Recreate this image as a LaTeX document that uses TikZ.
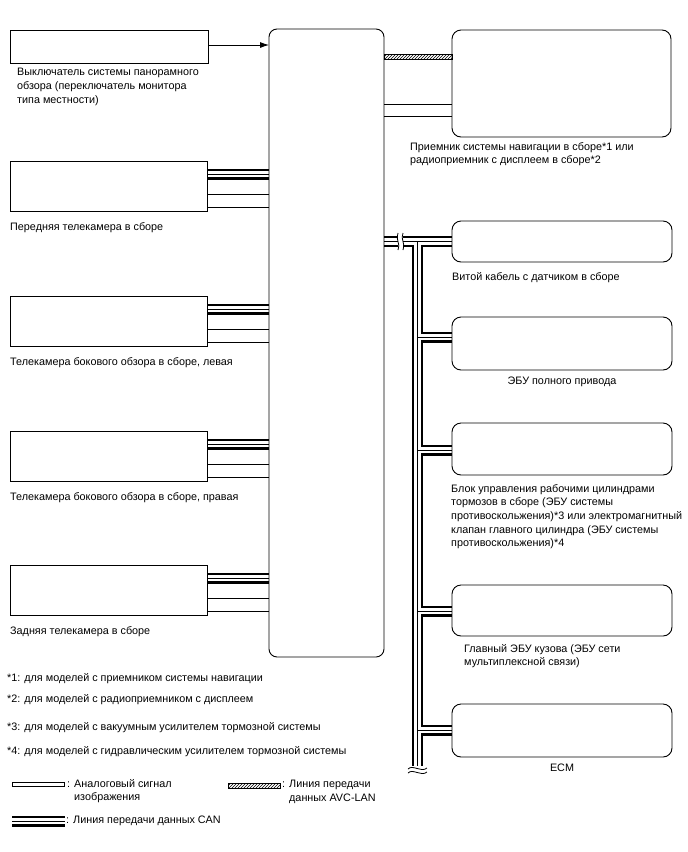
\documentclass[tikz,border=0pt]{standalone}
\usepackage{fontspec}
\setmainfont{Liberation Sans}
\usetikzlibrary{arrows.meta,patterns}
\pgfdeclarelayer{background}
\pgfsetlayers{background,main}

\tikzset{
  sqbox/.style={draw,line width=0.9pt,inner sep=0pt,outer sep=0pt},
  rdbox/.style={sqbox,rounded corners=9pt},
  lbl/.style={anchor=north west,align=left,inner sep=0pt},
  canblack/.style={line width=11pt},
  canwhite/.style={white,line width=6.5pt},
  canmid/.style={line width=0.7pt},
  analog/.style={line width=0.9pt},
}

\begin{document}
\begin{tikzpicture}[x=1pt,y=-1pt,>={Latex[length=9pt,width=6pt]},
  font=\fontsize{10.8}{13.7}\selectfont]
  \useasboundingbox (0,0) rectangle (688,852);

  % left side units
  \node[sqbox,minimum width=198pt,minimum height=33pt,anchor=north west] (swbox) at (10,30) {};
  \node[lbl] (sw-l) at (17,68) {Выключатель системы панорамного\\обзора (переключатель монитора\\типа местности)};
  \foreach \nm/\tp/\txt in {camf/161/{Передняя телекамера в сборе},
      caml/296/{Телекамера бокового обзора в сборе, левая},
      camr/431/{Телекамера бокового обзора в сборе, правая},
      camb/565/{Задняя телекамера в сборе}}{
    \node[sqbox,minimum width=197pt,minimum height=50pt,anchor=north west] (\nm) at (10,\tp) {};
    \node[lbl] (\nm-l) at (10,\tp+61) {\txt};
  }

  % the unit in the middle
  \node[sqbox,rounded corners=8pt,minimum width=115pt,minimum height=628pt,anchor=north west] (ecu) at (269,29) {};

  % right side units
  \node[rdbox,minimum width=219pt,minimum height=107pt,anchor=north west] (nav) at (452,30) {};
  \node[lbl] (nav-l) at (410,142) {Приемник системы навигации в сборе*1 или\\радиоприемник с дисплеем в сборе*2};
  \node[rdbox,minimum width=220pt,minimum height=41pt,anchor=north west] (twc) at (452,221) {};
  \node[lbl] (twc-l) at (452,272) {Витой кабель с датчиком в сборе};
  \node[rdbox,minimum width=220pt,minimum height=53pt,anchor=north west] (awd) at (452,317) {};
  \node[inner sep=0pt] (awd-l) at (562,382) {ЭБУ полного привода};
  \node[rdbox,minimum width=220pt,minimum height=52pt,anchor=north west] (brk) at (452,423) {};
  \node[lbl] (brk-l) at (451,484) {Блок управления рабочими цилиндрами\\тормозов в сборе (ЭБУ системы\\противоскольжения)*3 или электромагнитный\\клапан главного цилиндра (ЭБУ системы\\противоскольжения)*4};
  \node[rdbox,minimum width=220pt,minimum height=51pt,anchor=north west] (bdy) at (452,585) {};
  \node[lbl] (bdy-l) at (464,644) {Главный ЭБУ кузова (ЭБУ сети\\мультиплексной связи)};
  \node[rdbox,minimum width=220pt,minimum height=53pt,anchor=north west] (ecm) at (452,704) {};
  \node[inner sep=0pt] (ecm-l) at (562,768) {ECM};

  \coordinate (bustop) at (417.5,241.5);
  \coordinate (busend) at (417.5,766);

  \begin{pgfonlayer}{background}
  \draw[->,line width=0.8pt] (swbox.east |- 0,45) -- (ecu.west |- 0,45);
  \draw[line width=0.6pt,pattern=north east lines] (ecu.east |- 0,54.5) rectangle (nav.west |- 0,59.5);
  \draw[analog] (ecu.east |- 0,104) -- (nav.west |- 0,104);
  \draw[analog] (ecu.east |- 0,116) -- (nav.west |- 0,116);
  \foreach \nm in {camf,caml,camr,camb}{
    \coordinate (\nm-can) at ([yshift=-13pt]\nm.north east);
    \draw[analog] ([yshift=-33pt]\nm.north east) -- ([yshift=-33pt]\nm.north east -| ecu.west);
    \draw[analog] ([yshift=-46pt]\nm.north east) -- ([yshift=-46pt]\nm.north east -| ecu.west);
  }
  % CAN lines, drawn in three passes
  \foreach \ly in {canblack,canwhite,canmid}{
    \foreach \nm in {camf,caml,camr,camb}
      \draw[\ly] (\nm-can) -- (\nm-can -| ecu.west);
    \draw[\ly] (ecu.east |- bustop) -- (twc.west |- bustop);
    \draw[\ly] (bustop) -- (busend);
    \foreach \b/\y in {awd/337,brk/450,bdy/611,ecm/730}
      \draw[\ly] (bustop |- 0,\y) -- (\b.west |- 0,\y);
  }
  \end{pgfonlayer}

  % breaks
  \fill[white] (398,233) rectangle (403,250);
  \draw[line width=0.8pt] (398,233) .. controls (395,239) and (401,244) .. (398,250);
  \draw[line width=0.8pt] (403,233) .. controls (400,239) and (406,244) .. (403,250);
  \draw[line width=0.8pt] (408,769) .. controls (413,764) and (421,773) .. (427,768);
  \draw[line width=0.8pt] (408,773) .. controls (413,768) and (421,777) .. (427,772);

  % notes
  \node[lbl] (fn1) at (7,673) {*1: для моделей с приемником системы навигации};
  \node[lbl] (fn2) at (7,694) {*2: для моделей с радиоприемником с дисплеем};
  \node[lbl] (fn3) at (7,722) {*3: для моделей с вакуумным усилителем тормозной системы};
  \node[lbl] (fn4) at (7,746) {*4: для моделей с гидравлическим усилителем тормозной системы};

  % legend
  \draw[line width=0.6pt] (12,782) rectangle (64,786);
  \node[lbl] (lg1) at (67,779) {: Аналоговый сигнал\\\phantom{: }изображения};
  \draw[line width=0.6pt,pattern=north east lines] (228,783) rectangle (280,788);
  \node[lbl] (lg2) at (282,780) {: Линия передачи\\\phantom{: }данных AVC-LAN};
  \draw[canblack] (12,821) -- (65,821);
  \draw[canwhite] (12,821) -- (65,821);
  \draw[canmid] (12,821) -- (65,821);
  \node[lbl] (lg3) at (66,816) {: Линия передачи данных CAN};
\end{tikzpicture}
\end{document}
